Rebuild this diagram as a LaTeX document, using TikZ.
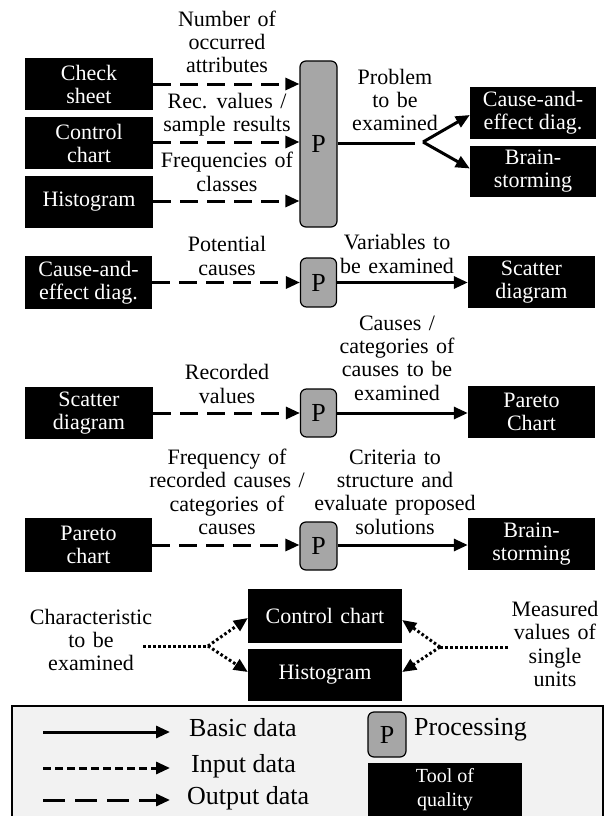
\documentclass[tikz,border=0pt]{standalone}
\usepackage{fontspec}
\setmainfont{Liberation Serif}
\usetikzlibrary{arrows.meta}
\definecolor{pgray}{RGB}{166,166,166}
\definecolor{lgray}{RGB}{242,242,242}
\newcommand\mywidesp{\spaceskip=7.5pt plus 2pt\relax}
\newcommand\mylblfont{\fontsize{22}{23.3}\selectfont\mywidesp}
\begin{document}
\begin{tikzpicture}[x=1pt,y=-1pt,
  tool/.style={fill=black, text=white, inner sep=0pt, align=center, font=\fontsize{22}{23}\selectfont},
  proc/.style={fill=pgray, draw=black, line width=1.2pt, rounded corners=6pt, inner sep=0pt, font=\fontsize{26}{26}\selectfont},
  lbl/.style={align=center, inner sep=0pt, font=\mylblfont},
  leg/.style={anchor=west, inner sep=0pt, font=\fontsize{26}{26}\selectfont},
  tip/.style={-{Triangle[length=14pt,width=12pt]}},
  outarr/.style={tip, line width=3pt, dash pattern=on 18pt off 9pt},
  basearr/.style={tip, line width=3pt},
  baseline/.style={line width=3pt},
  dotline/.style={line width=3pt, dash pattern=on 2.6pt off 2.4pt},
  dotarr/.style={tip, line width=3pt, dash pattern=on 2.6pt off 2.4pt},
  inarr/.style={tip, line width=3pt, dash pattern=on 8pt off 4pt},
]
\useasboundingbox (0,0) rectangle (605,816);

% ---------- Row 1 ----------
\node[tool, minimum width=128pt, minimum height=52pt] (cs) at (89,84) {Check\\sheet};
\node[tool, minimum width=128pt, minimum height=52pt] (cc) at (89,143) {Control\\chart};
\node[tool, minimum width=128pt, minimum height=52pt] (hg) at (89,202) {Histogram};
\node[proc, minimum width=37pt, minimum height=166pt] (p1) at (318.5,144) {P};
\node[lbl] (l1) at (227,42) {Number of\\occurred\\attributes};
\node[lbl] (l2) at (227,115) {Rec. values /\\sample results};
\node[lbl] (l3) at (227,172) {Frequencies of\\classes};
\draw[outarr] (cs.east) -- (cs.east -| p1.west);
\draw[outarr] ([yshift=1pt]cc.east) -- ([yshift=1pt]cc.east -| p1.west);
\draw[outarr] ([yshift=1pt]hg.east) -- ([yshift=1pt]hg.east -| p1.west);

\node[tool, minimum width=126pt, minimum height=52pt] (ce1) at (533,113) {Cause-and-\\effect diag.};
\node[tool, minimum width=126pt, minimum height=51pt] (bs1) at (533,171.5) {Brain-\\storming};
\node[lbl] (l4) at (395,100) {Problem\\to be\\examined};
\coordinate (e1) at (415,143);
\coordinate (s1) at (423,142);
\draw[baseline] (p1.east |- e1) -- (e1);
\draw[basearr] (s1) -- ([yshift=-2pt]ce1.west);
\draw[basearr] (s1) -- ([yshift=3pt]bs1.west);

% ---------- Row 2 ----------
\node[tool, minimum width=127pt, minimum height=53pt] (ce2) at (88.5,282.5) {Cause-and-\\effect diag.};
\node[proc, minimum width=36pt, minimum height=49pt] (p2) at (318.5,282.5) {P};
\node[tool, minimum width=127pt, minimum height=52pt] (sd2) at (531.5,282) {Scatter\\diagram};
\node[lbl] (l5) at (227,256) {Potential\\causes};
\node[lbl] (l6) at (397,254) {Variables to\\be examined};
\draw[outarr] (ce2.east) -- (ce2.east -| p2.west);
\draw[basearr] (p2.east) -- (p2.east -| sd2.west);

% ---------- Row 3 ----------
\node[tool, minimum width=128pt, minimum height=52pt] (sd3) at (89,413) {Scatter\\diagram};
\node[proc, minimum width=36pt, minimum height=48pt] (p3) at (318.5,413) {P};
\node[tool, minimum width=127pt, minimum height=52pt] (pc3) at (531.5,412) {Pareto\\Chart};
\node[lbl] (l7) at (227,384) {Recorded\\values};
\node[lbl] (l8) at (397,358) {Causes /\\categories of\\causes to be\\examined};
\draw[outarr] (sd3.east) -- (sd3.east -| p3.west);
\draw[basearr] (p3.east) -- (p3.east -| pc3.west);

% ---------- Row 4 ----------
\node[tool, minimum width=127pt, minimum height=54pt] (pc4) at (88.5,545) {Pareto\\chart};
\node[proc, minimum width=37pt, minimum height=48pt] (p4) at (318.5,546) {P};
\node[tool, minimum width=127pt, minimum height=52pt] (bs4) at (531.5,544) {Brain-\\storming};
\node[lbl] (l9) at (227,492) {Frequency of\\recorded causes /\\categories of\\causes};
\node[lbl] (l10) at (395,492) {Criteria to\\structure and\\evaluate proposed\\solutions};
\draw[outarr] (pc4.east) -- (pc4.east -| p4.west);
\draw[basearr] ([yshift=1pt]p4.east) -- ([yshift=1pt]p4.east -| bs4.west);

% ---------- Row 5 ----------
\node[tool, minimum width=154pt, minimum height=54pt, font=\mylblfont] (ctl) at (325,616) {Control chart};
\node[tool, minimum width=154pt, minimum height=52pt] (hist) at (325,675) {Histogram};
\node[lbl] (l11) at (91,640) {Characteristic\\to be\\examined};
\node[lbl] (l12) at (555,644) {Measured\\values of\\single\\units};
\coordinate (c1) at (143,646);
\coordinate (c2) at (208,646);
\draw[dotline] (c1) -- (c2);
\draw[dotarr] (c2) -- ([yshift=-2pt]ctl.west);
\draw[dotarr] (c2) -- ([yshift=3pt]hist.west);
\coordinate (d1) at (508,647);
\coordinate (d2) at (440,647);
\draw[dotline] (d1) -- (d2);
\draw[dotarr] (d2) -- ([yshift=-4pt]ctl.east);
\draw[dotarr] (d2) -- ([yshift=3pt]hist.east);

% ---------- Legend ----------
\draw[fill=lgray, line width=1.3pt] (12,706) rectangle (603,822);
\coordinate (a1) at (43,732);  \coordinate (b1) at (170,732);
\coordinate (a2) at (43,768);  \coordinate (b2) at (170,768);
\coordinate (a3) at (43,800);  \coordinate (b3) at (170,800);
\draw[basearr] (a1) -- (b1);
\draw[inarr] (a2) -- (b2);
\draw[outarr, dash pattern=on 22pt off 10pt] (a3) -- (b3);
\node[leg] (t1) at (189,728) {Basic data};
\node[leg] (t2) at (191,766) {Input data};
\node[leg] (t3) at (187,798) {Output data};
\node[proc, minimum width=38pt, minimum height=45pt] (lp) at (387,734.5) {P};
\node[leg] (t4) at (414,730) {Processing};
\node[tool, minimum width=154pt, minimum height=54pt, font=\fontsize{20}{24}\selectfont] (lt) at (445,790) {Tool of\\quality};
\end{tikzpicture}
\end{document}
